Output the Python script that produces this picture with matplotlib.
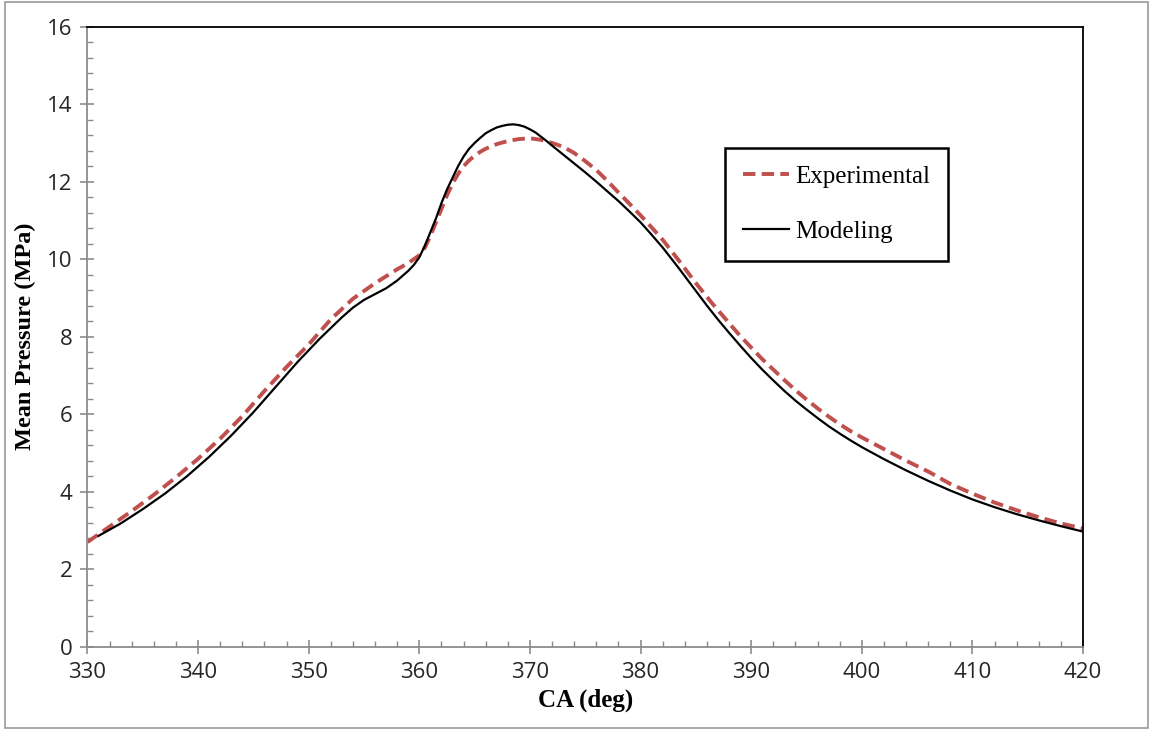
import matplotlib
matplotlib.use("Agg")
import matplotlib.pyplot as plt
from matplotlib.ticker import MultipleLocator
from matplotlib.patches import Rectangle

# crank angle (deg) and mean in-cylinder pressure (MPa)
ca_exp = [330, 332, 334, 336, 338, 340, 342, 344, 346, 348, 350, 352, 354,
          356, 357, 358, 359, 360, 360.5, 361, 361.5, 362, 362.5, 363, 363.5,
          364, 364.5, 365, 365.5, 366, 367, 368, 369, 370, 371, 372, 373, 374,
          375, 376, 377, 378, 379, 380, 381, 382, 383.5, 385, 386.5, 388, 389,
          390, 391, 392, 393, 394, 395, 396, 397, 398, 399, 400, 402, 404, 406,
          408, 410, 412, 414, 416, 418, 420]
p_exp = [2.7, 3.1, 3.5, 3.92, 4.37, 4.85, 5.37, 5.95, 6.6, 7.22, 7.8, 8.45, 8.98,
         9.38, 9.56, 9.74, 9.9, 10.1, 10.3, 10.6, 10.95, 11.3, 11.65, 11.95, 12.2,
         12.4, 12.55, 12.67, 12.77, 12.85, 12.97, 13.05, 13.1, 13.12, 13.08, 13.0, 12.9, 12.74,
         12.53, 12.3, 12.02, 11.72, 11.43, 11.13, 10.82, 10.5, 9.95, 9.38, 8.85, 8.35, 8.02,
         7.72, 7.42, 7.15, 6.88, 6.62, 6.38, 6.15, 5.94, 5.74, 5.56, 5.4, 5.1, 4.8, 4.52,
         4.2, 3.95, 3.72, 3.52, 3.34, 3.18, 3.05]

ca_mod = [331, 333, 335, 337, 339, 341, 343, 345, 347, 349, 351, 353, 354,
          355, 356, 357, 358, 359, 359.5, 360, 360.5, 361, 361.5, 362, 362.5,
          363, 363.5, 364, 364.5, 365, 365.5, 366, 366.5, 367, 367.5, 368,
          368.5, 369, 369.5, 370, 370.5, 371, 371.5, 372, 373, 374, 375, 376,
          377, 378, 379, 380, 381, 382, 383.5, 385, 386, 387, 388, 389, 390,
          391, 392, 393, 394, 395, 396, 397, 398, 399, 400, 402, 404, 406, 408,
          410, 412, 414, 416, 418, 420]
p_mod = [2.86, 3.18, 3.55, 3.95, 4.4, 4.9, 5.45, 6.05, 6.7, 7.35, 7.95, 8.5, 8.75,
         8.95, 9.1, 9.25, 9.45, 9.7, 9.85, 10.05, 10.35, 10.7, 11.05, 11.45, 11.8,
         12.1, 12.4, 12.65, 12.85, 13.0, 13.13, 13.25, 13.33, 13.4, 13.44, 13.47,
         13.48, 13.46, 13.42, 13.35, 13.27, 13.16, 13.05, 12.93, 12.7, 12.47, 12.24, 12.0,
         11.75, 11.5, 11.23, 10.95, 10.63, 10.3, 9.75, 9.18, 8.8, 8.44, 8.1, 7.77, 7.45,
         7.15, 6.87, 6.6, 6.35, 6.12, 5.9, 5.69, 5.5, 5.32, 5.15, 4.84, 4.55, 4.28, 4.03,
         3.8, 3.6, 3.42, 3.26, 3.11, 2.97]

fig = plt.figure(figsize=(11.51, 7.29), dpi=100)
ax = fig.add_axes([0.076, 0.1129, 0.865, 0.8505])

ax.plot(ca_exp, p_exp, color="#C0504D", lw=2.8, dashes=(3.2, 1.6),
        label="Experimental")
ax.plot(ca_mod, p_mod, color="black", lw=1.6, label="Modeling")

ax.set_xlim(330, 420)
ax.set_ylim(0, 16)
ax.xaxis.set_major_locator(MultipleLocator(10))
ax.xaxis.set_minor_locator(MultipleLocator(2))
ax.yaxis.set_major_locator(MultipleLocator(2))
ax.yaxis.set_minor_locator(MultipleLocator(0.4))

grey = "#8C8C8C"
for side in ("left", "bottom"):
    ax.spines[side].set_color(grey)
    ax.spines[side].set_linewidth(1.3)
for side in ("top", "right"):
    ax.spines[side].set_color("black")
    ax.spines[side].set_linewidth(1.3)

ax.tick_params(which="major", direction="inout", length=10, width=1.2,
               color=grey, labelsize=16, labelcolor="#262626", pad=6)
ax.tick_params(which="minor", direction="in", length=4, width=1.0, color=grey)
for lab in ax.get_xticklabels() + ax.get_yticklabels():
    lab.set_family("Open Sans")

ax.set_xlabel("CA (deg)", family="Liberation Serif", fontweight="bold",
              fontsize=18, labelpad=4)
ax.set_ylabel("Mean Pressure (MPa)", family="Liberation Serif",
              fontweight="bold", fontsize=17.5, labelpad=8)

leg = ax.legend(loc="upper left", bbox_to_anchor=(725 / 1151, 1 - 148 / 729),
                bbox_transform=fig.transFigure, fancybox=False,
                edgecolor="black", framealpha=1, borderpad=0.7,
                labelspacing=1.3, handlelength=1.85, handletextpad=0.25,
                borderaxespad=0, prop={"family": "Liberation Serif", "size": 18})
leg.get_frame().set_linewidth(1.8)

# thin grey border around the whole figure
fig.patches.append(Rectangle((0.004, 0.002), 0.993, 0.995,
                             transform=fig.transFigure, fill=False,
                             edgecolor="#9A9A9A", lw=1.2))

fig.savefig("out.png", dpi=100)
